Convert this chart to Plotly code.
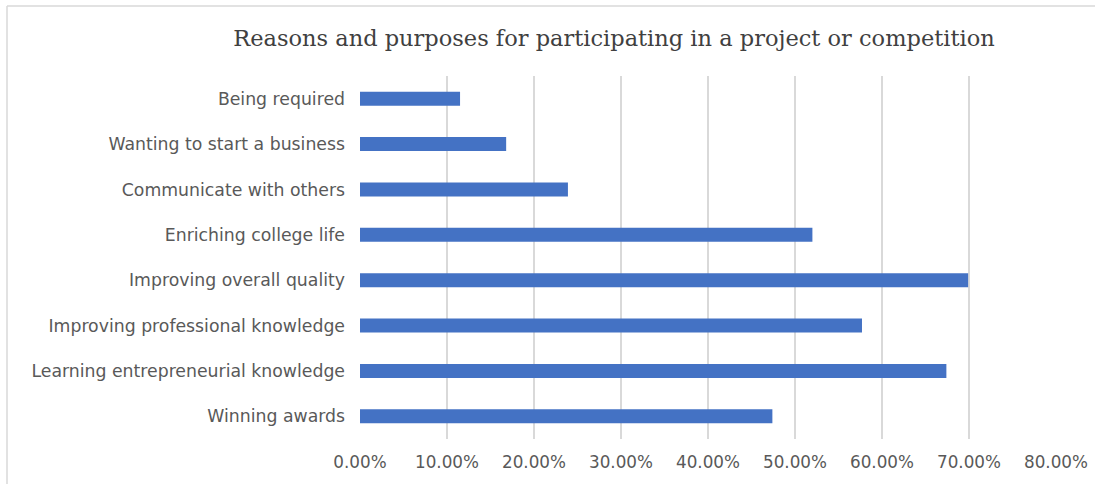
import plotly.graph_objects as go

categories = [
    "Winning awards",
    "Learning entrepreneurial knowledge",
    "Improving professional knowledge",
    "Improving overall quality",
    "Enriching college life",
    "Communicate with others",
    "Wanting to start a business",
    "Being required",
]
values = [0.474, 0.674, 0.577, 0.699, 0.520, 0.239, 0.168, 0.115]
tick_vals = [0, 0.1, 0.2, 0.3, 0.4, 0.5, 0.6, 0.7, 0.8]
tick_text = ["0.00%", "10.00%", "20.00%", "30.00%", "40.00%", "50.00%", "60.00%", "70.00%", "80.00%"]

W, H = 1095, 484
L, R, T, B = 360, 39, 76, 45
pw, ph = W - L - R, H - T - B

def px(x):
    return (x - L) / pw

def py(y):
    return 1 - (y - T) / ph

fig = go.Figure(go.Bar(
    x=values, y=categories, orientation="h",
    marker=dict(color="#4472C4", line=dict(width=0)),
    width=0.31,
))

fig.update_layout(
    width=W, height=H,
    margin=dict(l=L, r=R, t=T, b=B),
    plot_bgcolor="white", paper_bgcolor="white",
    showlegend=False,
    title=dict(
        text="Reasons and purposes for participating in a project or competition",
        font=dict(family="DejaVu Serif", size=22.5, color="#404040"),
        x=px(614), xanchor="center", xref="paper",
        y=1 - 38 / H, yanchor="middle", yref="container",
    ),
    xaxis=dict(
        range=[0, 0.8], tickvals=tick_vals, ticktext=tick_text,
        showgrid=True, gridcolor="#d9d9d9", gridwidth=1.5,
        zeroline=False, showline=False, automargin=False,
        tickfont=dict(family="DejaVu Sans", size=16.8, color="#595959"),
        ticks="", ticklabelstandoff=11,
    ),
    yaxis=dict(
        categoryorder="array", categoryarray=categories,
        showgrid=False, zeroline=False, showline=False, automargin=False,
        tickfont=dict(family="DejaVu Sans", size=17.3, color="#595959"),
        ticks="", ticklabelstandoff=14,
    ),
    shapes=[
        dict(type="line", xref="paper", yref="paper",
             x0=px(7), x1=px(1095), y0=py(6), y1=py(6),
             line=dict(color="#d9d9d9", width=1.5)),
        dict(type="line", xref="paper", yref="paper",
             x0=px(7), x1=px(7), y0=py(6), y1=py(484),
             line=dict(color="#d9d9d9", width=1.5)),
    ],
)

fig.write_html("out.html", config={"displayModeBar": False},
               post_script="document.body.style.margin='0';document.body.style.padding='0';")
